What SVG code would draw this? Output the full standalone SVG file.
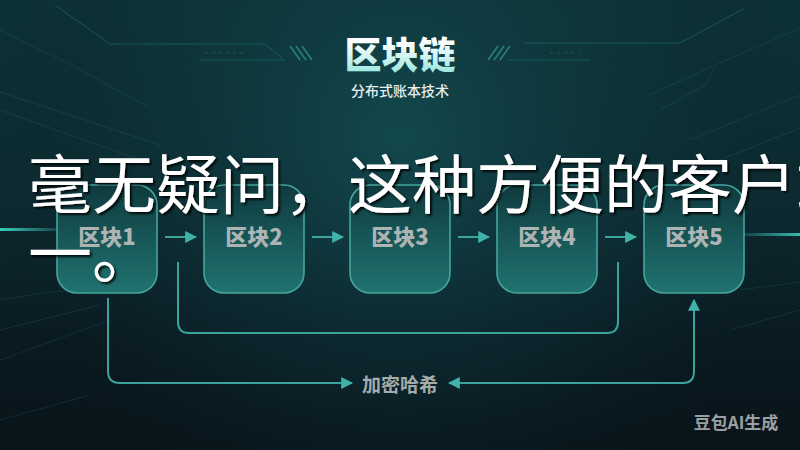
<svg xmlns="http://www.w3.org/2000/svg" width="800" height="450" viewBox="0 0 800 450">
  <defs>
    <linearGradient id="bg" x1="0" y1="0" x2="0" y2="1">
      <stop offset="0" stop-color="#0d3236"/>
      <stop offset="0.45" stop-color="#0c2a30"/>
      <stop offset="0.75" stop-color="#0a1a21"/>
      <stop offset="1" stop-color="#08141a"/>
    </linearGradient>
    <radialGradient id="glow" cx="400" cy="140" r="420" gradientUnits="userSpaceOnUse">
      <stop offset="0" stop-color="#145156" stop-opacity="0.75"/>
      <stop offset="0.6" stop-color="#0f3a40" stop-opacity="0.3"/>
      <stop offset="1" stop-color="#0a1a20" stop-opacity="0"/>
    </radialGradient>
    <linearGradient id="nodeFill" x1="0" y1="0" x2="0" y2="1">
      <stop offset="0" stop-color="#0f3a3e"/>
      <stop offset="1" stop-color="#207370"/>
    </linearGradient>
    <linearGradient id="titleFill" x1="0" y1="0" x2="0" y2="1">
      <stop offset="0.3" stop-color="#ffffff"/>
      <stop offset="1" stop-color="#84e2d8"/>
    </linearGradient>
    <linearGradient id="streakL" x1="0" y1="0" x2="1" y2="0">
      <stop offset="0" stop-color="#3fe0d0" stop-opacity="0.9"/>
      <stop offset="1" stop-color="#3fe0d0" stop-opacity="0"/>
    </linearGradient>
    <linearGradient id="streakR" x1="1" y1="0" x2="0" y2="0">
      <stop offset="0" stop-color="#3fe0d0" stop-opacity="0.8"/>
      <stop offset="1" stop-color="#3fe0d0" stop-opacity="0"/>
    </linearGradient>
    <filter id="shadow" x="-5%" y="-20%" width="110%" height="140%">
      <feDropShadow dx="2" dy="2" stdDeviation="1.2" flood-color="#000000" flood-opacity="0.85"/>
    </filter>
    <marker id="arrow" viewBox="0 0 10 10" refX="9" refY="5" markerWidth="12" markerHeight="12" markerUnits="userSpaceOnUse" orient="auto">
      <path d="M0,0 L10,5 L0,10 Z" fill="#3fb3aa"/>
    </marker>
    <style>
      .deco { fill: none; stroke: #2c9a92; stroke-width: 1; opacity: 0.35; }
      .decoFaint { fill: none; stroke: #2c8a84; stroke-width: 1; opacity: 0.2; }
      .node rect { fill: url(#nodeFill); stroke: #45a59d; stroke-width: 1.6; }
      .node text { font-family: "Noto Sans CJK SC", "Noto Sans", sans-serif; font-weight: 900; font-size: 22px; fill: #aeb3b3; text-anchor: middle; }
      .conn { fill: none; stroke: #3aa39b; stroke-width: 2; }
      .label { font-family: "Noto Sans CJK SC", "Noto Sans", sans-serif; font-weight: 700; font-size: 19px; fill: #a3acab; text-anchor: middle; }
    </style>
  </defs>

  <!-- background -->
  <rect width="800" height="450" fill="url(#bg)"/>
  <rect width="800" height="450" fill="url(#glow)"/>
  <g id="decoration">
    <path class="deco" d="M55,5 L110,44 L265,44 L282,58"/>
    <path class="deco" d="M200,60 L285,60"/>
    <path class="deco" d="M205,53 L245,53" stroke-dasharray="3,4"/>
    <path class="decoFaint" d="M0,30 L78,68 L95,78 L150,108"/>
    <path class="decoFaint" d="M0,92 L160,145"/>
    <path class="decoFaint" d="M0,110 L140,160"/>
    <path class="decoFaint" d="M0,300 L50,292 L110,290"/>
    <path class="decoFaint" d="M0,330 L60,315 L100,305"/>
    <path class="decoFaint" d="M0,360 L110,320"/>
    <path class="decoFaint" d="M0,420 L90,395"/>
    <path class="deco" d="M523,43 L680,43 L745,8"/>
    <path class="deco" d="M508,60 L590,60"/>
    <path class="deco" d="M550,53 L580,53" stroke-dasharray="3,4"/>
    <path class="decoFaint" d="M650,95 L715,65 L800,28"/>
    <path class="decoFaint" d="M715,68 L705,85 L660,110"/>
    <path class="decoFaint" d="M690,140 L800,95"/>
    <path class="decoFaint" d="M720,160 L800,128"/>
    <path class="decoFaint" d="M740,290 L800,282"/>
    <path class="decoFaint" d="M730,330 L800,310"/>
    <g stroke="#3fb3aa" stroke-width="1.5" opacity="0.6">
      <line x1="290" y1="46" x2="300" y2="60"/>
      <line x1="296" y1="46" x2="306" y2="60"/>
      <line x1="302" y1="46" x2="312" y2="60"/>
      <line x1="498" y1="46" x2="488" y2="60"/>
      <line x1="504" y1="46" x2="494" y2="60"/>
      <line x1="510" y1="46" x2="500" y2="60"/>
    </g>
    <rect x="0" y="228" width="70" height="3" fill="url(#streakL)"/>
    <rect x="730" y="233" width="70" height="3" fill="url(#streakR)"/>
  </g>

  <!-- title -->
  <g id="title">
    <text x="400" y="69" text-anchor="middle" font-family="Noto Sans CJK SC, Noto Sans, sans-serif" font-weight="900" font-size="37" fill="url(#titleFill)">区块链</text>
    <text x="400" y="96" text-anchor="middle" font-family="Noto Sans CJK SC, Noto Sans, sans-serif" font-weight="500" font-size="14" fill="#e6eeee">分布式账本技术</text>
  </g>

  <!-- connectors -->
  <g id="connectors">
    <line class="conn" x1="165" y1="237" x2="196" y2="237" marker-end="url(#arrow)"/>
    <line class="conn" x1="312" y1="237" x2="343" y2="237" marker-end="url(#arrow)"/>
    <line class="conn" x1="458" y1="237" x2="489" y2="237" marker-end="url(#arrow)"/>
    <line class="conn" x1="605" y1="237" x2="636" y2="237" marker-end="url(#arrow)"/>
    <path class="conn" d="M178,262 L178,322 Q178,333 189,333 L607,333 Q618,333 618,322 L618,262"/>
    <path class="conn" d="M108,298 L108,371 Q108,383 120,383 L352,383" marker-end="url(#arrow)"/>
    <path class="conn" d="M683,383 Q694,383 694,371 L694,300" marker-end="url(#arrow)"/>
    <path class="conn" d="M683,383 L449,383" marker-end="url(#arrow)"/>
  </g>

  <!-- nodes -->
  <g id="block1" class="node"><rect x="57" y="185" width="100" height="108" rx="20"/><text x="107" y="245">区块1</text></g>
  <g id="block2" class="node"><rect x="204" y="185" width="100" height="108" rx="20"/><text x="254" y="245">区块2</text></g>
  <g id="block3" class="node"><rect x="350" y="185" width="100" height="108" rx="20"/><text x="400" y="245">区块3</text></g>
  <g id="block4" class="node"><rect x="497" y="185" width="100" height="108" rx="20"/><text x="547" y="245">区块4</text></g>
  <g id="block5" class="node"><rect x="644" y="185" width="100" height="108" rx="20"/><text x="694" y="245">区块5</text></g>

  <g id="hash-label">
    <text class="label" x="400" y="392">加密哈希</text>
  </g>

  <!-- overlay caption -->
  <g id="caption" filter="url(#shadow)" font-family="Noto Sans CJK SC, Noto Sans, sans-serif" font-size="64" fill="#ffffff">
    <text x="28" y="208">毫无疑问，这种方便的客户端</text>
    <text x="28" y="277">一。</text>
  </g>

  <g id="watermark">
    <text x="736" y="429" text-anchor="middle" font-family="Noto Sans CJK SC, Noto Sans, sans-serif" font-weight="700" font-size="17" fill="#ffffff" fill-opacity="0.6">豆包AI生成</text>
  </g>
</svg>
